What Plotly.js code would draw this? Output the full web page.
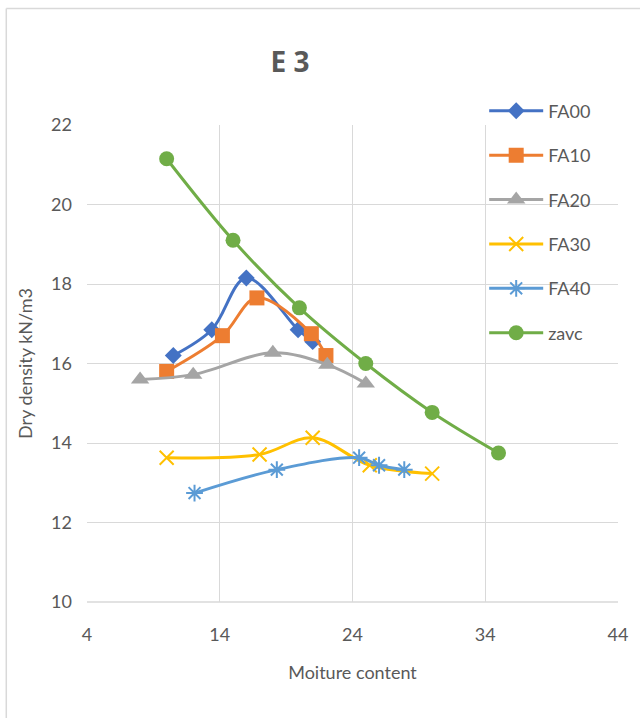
<!DOCTYPE html>
<html><head><meta charset="utf-8">
<script src="https://cdn.plot.ly/plotly-3.0.1.min.js"></script>
<style>body{margin:0;background:#fff}#chart{width:640px;height:718px}</style>
</head><body><div id="chart"></div>
<script>
const seriesNames = ["FA00","FA10","FA20","FA30","FA40","zavc"];
const fa00X = [10.5, 13.4, 16.0, 19.9, 21.0];
const fa00Y = [16.2, 16.85, 18.15, 16.85, 16.55];
const fa10X = [10.0, 14.2, 16.8, 20.9, 22.0];
const fa10Y = [15.8, 16.7, 17.65, 16.75, 16.2];
const fa20X = [8.0, 12.0, 18.0, 22.1, 25.0];
const fa20Y = [15.6, 15.72, 16.27, 15.97, 15.5];
const fa30X = [10.0, 17.0, 21.0, 25.3, 30.0];
const fa30Y = [13.63, 13.71, 14.13, 13.44, 13.23];
const fa40X = [12.1, 18.3, 24.5, 26.0, 27.9];
const fa40Y = [12.74, 13.33, 13.63, 13.44, 13.33];
const zavcX = [10, 15, 20, 25, 30, 35];
const zavcY = [21.15, 19.1, 17.4, 16.0, 14.77, 13.75];
const xTicks = [4, 14, 24, 34, 44];
const yTicks = [10, 12, 14, 16, 18, 20, 22];

const colors = ["#4472C4","#ED7D31","#A5A5A5","#FFC000","#5B9BD5","#70AD47"];
const symbols = ["diamond","square","triangle-up","x-thin-open","asterisk-open","circle"];
const sizes = [13, 15, 16, 14, 14, 15];
const xs = [fa00X, fa10X, fa20X, fa30X, fa40X, zavcX];
const ys = [fa00Y, fa10Y, fa20Y, fa30Y, fa40Y, zavcY];

const traces = seriesNames.map((n, i) => ({
  x: xs[i], y: ys[i], name: n, type: "scatter", mode: "lines+markers",
  legendgroup: n,
  line: {color: colors[i], width: 3, shape: "spline", smoothing: 1},
  marker: {color: colors[i], symbol: symbols[i], size: sizes[i],
           line: {color: colors[i], width: (i === 3 || i === 4) ? 2 : 0}}
}));

const font = "Lato, 'Open Sans', sans-serif";
const layout = {
  width: 640, height: 718,
  margin: {l: 87, r: 22, t: 125, b: 116},
  paper_bgcolor: "#fff", plot_bgcolor: "#fff",
  font: {family: font, color: "#595959", size: 16},
  title: {text: "<b>E 3</b>", x: 0.453, xanchor: "center", y: 0.913, yanchor: "middle",
          font: {family: "'Open Sans', sans-serif", size: 28, color: "#595959"}},
  xaxis: {range: [4, 44], tickvals: xTicks, ticktext: xTicks.map(String),
          showgrid: true, gridcolor: "#d9d9d9", gridwidth: 1.3, zeroline: false,
          showline: false, ticks: "", ticklabelstandoff: 20, tickfont: {size: 18, color: "#595959"},
          title: {text: "Moiture content", font: {size: 18, color: "#595959"}, standoff: 22}},
  yaxis: {range: [10, 22], tickvals: yTicks, ticktext: yTicks.map(String),
          showgrid: true, gridcolor: "#d9d9d9", gridwidth: 1.3, zeroline: false,
          showline: false, ticks: "", ticklabelstandoff: 14, tickfont: {size: 18, color: "#595959"},
          title: {text: "Dry density kN/m3", font: {size: 18, color: "#595959"}, standoff: 13}},
  showlegend: true,
  legend: {x: 0.748, xanchor: "left", y: 1.068, yanchor: "top",
           bgcolor: "rgba(0,0,0,0)", font: {size: 18, color: "#595959"},
           tracegroupgap: 18, itemwidth: 54},
  shapes: [
    {type: "line", xref: "paper", yref: "paper", x0: -0.152, x1: 1.1, y0: 1.244, y1: 1.244,
     line: {color: "#d9d9d9", width: 1.5}},
    {type: "line", xref: "paper", yref: "paper", x0: -0.152, x1: -0.152, y0: 1.244, y1: -0.3,
     line: {color: "#d9d9d9", width: 1.5}},
    {type: "line", xref: "paper", yref: "paper", x0: 0, x1: 1, y0: 0, y1: 0,
     line: {color: "#d9d9d9", width: 1.3}}
  ]
};
Plotly.newPlot("chart", traces, layout, {displayModeBar: false});
</script></body></html>
